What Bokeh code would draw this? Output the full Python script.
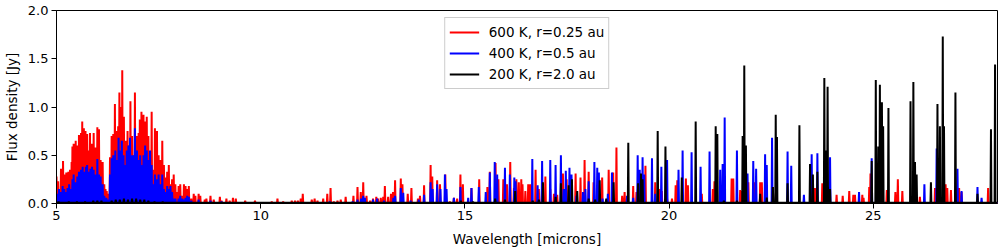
from bokeh.plotting import figure
from bokeh.models import Range1d, FixedTicker, PrintfTickFormatter, Legend, LegendItem
from bokeh.embed import file_html
from bokeh.resources import INLINE

# ---------------- data ----------------
# 600 K, r=0.25 au  (line centres in microns, peak flux in Jy)
red_wl = [5.00, 5.04, 5.11, 5.16, 5.20, 5.24, 5.29, 5.33, 5.37, 5.39, 5.42, 5.47, 5.51, 5.55,
          5.60, 5.63, 5.67, 5.71, 5.75, 5.78, 5.82, 5.86, 5.91, 5.95, 6.00, 6.04, 6.08, 6.13,
          6.17, 6.20, 6.23, 6.26, 6.31, 6.35, 6.39, 6.43, 6.47, 6.51, 6.54, 6.57, 6.61, 6.65,
          6.70, 6.74, 6.77, 6.81, 6.85, 6.89, 6.92, 6.97, 7.01, 7.04, 7.08, 7.13, 7.17, 7.21,
          7.25, 7.29, 7.33, 7.37, 7.41, 7.46, 7.50, 7.54, 7.59, 7.63, 7.67, 7.71, 7.75, 7.79,
          7.83, 7.87, 7.91, 7.95, 7.99, 8.03, 8.08, 8.12, 8.16, 8.20, 8.24, 8.30, 8.36, 8.40,
          8.48, 8.52, 8.63, 8.67, 8.77, 8.85, 9.00, 9.04, 9.16, 9.24, 9.32, 9.39, 9.62, 9.86,
          10.27, 10.41, 10.55, 10.76, 10.84, 10.91, 10.98, 11.03, 11.25, 11.32, 11.39, 11.53,
          11.63, 11.71, 11.79, 11.88, 11.96, 12.08, 12.27, 12.37, 12.45, 12.51, 12.59, 12.68,
          12.75, 12.83, 12.87, 12.94, 13.00, 13.04, 13.12, 13.19, 13.24, 13.29, 13.43, 13.47,
          13.60, 13.69, 13.85, 13.90, 14.00, 14.16, 14.20, 14.32, 14.39, 14.52, 14.63, 14.73,
          14.81, 14.89, 14.95, 15.16, 15.35, 15.55, 15.61, 15.75, 15.82, 15.94, 16.03, 16.11,
          16.20, 16.26, 16.32, 16.38, 16.41, 16.48, 16.55, 16.60, 16.73, 16.81, 16.89, 16.97,
          17.09, 17.18, 17.26, 17.40, 17.49, 17.60, 17.71, 17.83, 17.93, 18.03, 18.15, 18.28,
          18.36, 18.52, 18.63, 18.71, 18.85, 18.91, 19.12, 19.20, 19.42, 19.66, 19.77, 19.82,
          19.95, 20.07, 20.16, 20.20, 20.41, 20.46, 20.80, 21.07, 21.11, 21.53, 21.57, 21.74,
          21.78, 21.94, 22.09, 22.23, 22.27, 22.54, 23.53, 23.57, 23.75, 24.10, 24.25, 24.41,
          24.51, 24.55, 24.73, 24.76, 24.90, 24.93, 25.33, 25.54, 25.60, 25.71, 26.14, 26.51,
          26.77, 26.81, 26.90, 27.10, 27.16, 27.81]
red_flux = [0.28, 0.23, 0.36, 0.44, 0.30, 0.32, 0.33, 0.35, 0.43, 0.59, 0.62, 0.65, 0.60, 0.71,
            0.73, 0.85, 0.78, 0.75, 0.72, 0.55, 0.73, 0.62, 0.73, 0.58, 0.79, 0.77, 0.45, 0.43,
            0.20, 0.15, 0.13, 0.10, 0.48, 0.70, 0.72, 1.03, 0.75, 0.80, 1.15, 1.00, 1.38, 0.90,
            0.65, 0.75, 0.60, 1.06, 0.70, 0.50, 1.15, 0.70, 0.73, 0.87, 0.95, 0.92, 0.85, 0.90,
            0.70, 0.50, 0.95, 0.35, 0.78, 0.75, 0.50, 0.45, 0.65, 0.40, 0.27, 0.33, 0.40, 0.20,
            0.25, 0.30, 0.20, 0.12, 0.18, 0.20, 0.08, 0.20, 0.18, 0.15, 0.18, 0.05, 0.10, 0.08,
            0.10, 0.08, 0.04, 0.05, 0.08, 0.04, 0.07, 0.03, 0.05, 0.03, 0.06, 0.05, 0.03, 0.03,
            0.02, 0.05, 0.02, 0.03, 0.03, 0.03, 0.05, 0.10, 0.04, 0.05, 0.03, 0.05,
            0.10, 0.16, 0.02, 0.03, 0.04, 0.07, 0.08, 0.17, 0.12, 0.22, 0.08, 0.03,
            0.05, 0.07, 0.05, 0.06, 0.07, 0.18, 0.07, 0.10, 0.12, 0.24, 0.26, 0.20,
            0.10, 0.16, 0.05, 0.08, 0.19, 0.40, 0.28, 0.24, 0.20, 0.30, 0.02, 0.06,
            0.05, 0.30, 0.20, 0.16, 0.25, 0.17, 0.33, 0.42, 0.25, 0.25, 0.20, 0.43,
            0.16, 0.25, 0.22, 0.25, 0.20, 0.13, 0.20, 0.20, 0.35, 0.15, 0.18, 0.28,
            0.15, 0.10, 0.09, 0.31, 0.25, 0.20, 0.31, 0.27, 0.45, 0.33, 0.22, 0.22,
            0.27, 0.35, 0.32, 0.58, 0.08, 0.12, 0.18, 0.12, 0.39, 0.22, 0.15, 0.13,
            0.05, 0.05, 0.19, 0.24, 0.26, 0.19, 0.10, 0.15, 0.23, 0.26, 0.26, 0.14,
            0.13, 0.22, 0.22, 0.22, 0.22, 0.17, 0.16, 0.16, 0.21, 0.09, 0.08, 0.13,
            0.09, 0.09, 0.09, 0.06, 0.17, 0.31, 0.14, 0.12, 0.25, 0.13, 0.07, 0.16,
            0.20, 0.16, 0.14, 0.16, 0.12, 0.16]

# 400 K, r=0.5 au
blue_wl = [5.02, 5.06, 5.11, 5.15, 5.19, 5.23, 5.27, 5.31, 5.34, 5.39, 5.42, 5.47, 5.51, 5.55,
           5.60, 5.64, 5.68, 5.72, 5.75, 5.79, 5.83, 5.87, 5.91, 5.95, 6.00, 6.04, 6.08, 6.13,
           6.17, 6.22, 6.26, 6.31, 6.35, 6.39, 6.44, 6.48, 6.52, 6.56, 6.60, 6.64, 6.68, 6.72,
           6.76, 6.80, 6.84, 6.88, 6.92, 6.97, 7.01, 7.05, 7.09, 7.13, 7.17, 7.21, 7.25, 7.29,
           7.33, 7.37, 7.41, 7.46, 7.50, 7.54, 7.59, 7.63, 7.67, 7.71, 7.75, 7.79, 7.83, 7.87,
           7.91, 7.99, 8.03, 8.08, 8.12, 8.16, 8.20, 8.24, 8.30, 8.48, 8.77, 9.04, 11.69, 12.25,
           12.37, 12.46, 12.51, 12.55, 12.75, 12.85, 13.02, 13.25, 13.29, 13.43, 13.49, 13.67,
           13.87, 14.00, 14.16, 14.21, 14.32, 14.40, 14.51, 14.55, 14.73, 14.89, 15.08, 15.16,
           15.34, 15.51, 15.61, 15.73, 15.79, 15.98, 16.10, 16.21, 16.24, 16.65, 16.78, 16.89,
           17.09, 17.22, 17.35, 17.42, 17.47, 17.56, 17.61, 17.73, 17.89, 17.95, 18.03, 18.17,
           18.24, 18.28, 18.37, 18.50, 18.60, 18.97, 19.12, 19.23, 19.28, 19.35, 19.39, 19.58,
           19.66, 19.81, 19.95, 20.23, 20.33, 20.55, 20.77, 20.99, 21.25, 21.31, 21.36, 21.66,
           21.92, 22.06, 22.13, 22.35, 22.39, 22.52, 22.90, 22.99, 23.30, 23.49, 23.63, 23.94,
           24.65, 24.96, 26.25, 26.55, 27.06, 27.16, 27.55, 27.65]
blue_flux = [0.10, 0.15, 0.12, 0.18, 0.15, 0.12, 0.16, 0.20, 0.15, 0.25, 0.30, 0.22, 0.28, 0.33,
             0.35, 0.38, 0.33, 0.38, 0.40, 0.33, 0.36, 0.38, 0.35, 0.30, 0.46, 0.30, 0.28, 0.20,
             0.08, 0.06, 0.04, 0.30, 0.47, 0.50, 0.55, 0.45, 0.68, 0.55, 0.65, 0.50, 0.40, 0.55,
             0.60, 0.68, 0.50, 0.50, 0.78, 0.55, 0.45, 0.50, 0.40, 0.50, 0.60, 0.55, 0.45, 0.55,
             0.40, 0.20, 0.30, 0.25, 0.30, 0.20, 0.30, 0.15, 0.12, 0.18, 0.15, 0.18, 0.12, 0.05,
             0.05, 0.05, 0.08, 0.05, 0.04, 0.06, 0.08, 0.07, 0.03, 0.04, 0.03, 0.02, 0.02, 0.02,
             0.04, 0.05, 0.08, 0.06, 0.04, 0.05, 0.03, 0.06, 0.08, 0.16, 0.11, 0.03,
             0.04, 0.09, 0.22, 0.15, 0.20, 0.15, 0.30, 0.15, 0.06, 0.17, 0.06, 0.16,
             0.17, 0.12, 0.32, 0.43, 0.30, 0.37, 0.30, 0.27, 0.23, 0.46, 0.19, 0.44,
             0.45, 0.40, 0.50, 0.15, 0.34, 0.37, 0.30, 0.08, 0.12, 0.15, 0.23, 0.43,
             0.37, 0.32, 0.05, 0.10, 0.32, 0.08, 0.06, 0.50, 0.35, 0.48, 0.30, 0.47,
             0.10, 0.38, 0.45, 0.35, 0.55, 0.53, 0.38, 0.54, 0.35, 0.41, 0.89, 0.55,
             0.31, 0.44, 0.36, 0.51, 0.40, 0.68, 0.54, 0.39, 0.09, 0.51, 0.52, 0.48,
             0.12, 0.47, 0.20, 0.57, 0.36, 0.13, 0.17, 0.06]

# 200 K, r=2.0 au
black_wl = [5.05, 5.30, 5.50, 5.70, 5.90, 6.00, 6.10, 6.35, 6.45, 6.55, 6.65, 6.75, 6.85, 6.95,
            7.05, 7.15, 7.25, 7.40, 7.60, 14.90, 15.20, 15.74, 15.98, 16.23, 16.66, 16.81,
            16.91, 17.22, 17.35, 17.54, 17.62, 17.75, 18.03, 18.19, 18.30, 18.46, 18.64, 19.00,
            19.24, 19.31, 19.35, 19.72, 19.91, 20.31, 20.65, 21.14, 21.18, 21.34, 21.66, 21.80,
            21.84, 21.88, 22.23, 22.39, 22.54, 22.61, 22.64, 22.90, 23.19, 23.45, 23.52, 23.63,
            23.80, 23.84, 23.88, 23.94, 24.96, 25.06, 25.12, 25.16, 25.21, 25.24, 25.37, 25.91,
            25.98, 26.02, 26.06, 26.41, 26.57, 26.63, 26.70, 26.73, 27.01, 27.55, 27.88, 27.98]
black_flux = [0.02, 0.02, 0.02, 0.02, 0.03, 0.03, 0.03, 0.03, 0.04, 0.04, 0.05, 0.04, 0.05, 0.05,
              0.04, 0.04, 0.03, 0.02, 0.02, 0.03, 0.02, 0.05, 0.04, 0.13, 0.03, 0.04,
              0.22, 0.07, 0.21, 0.19, 0.25, 0.13, 0.05, 0.04, 0.24, 0.05, 0.22, 0.63,
              0.21, 0.31, 0.25, 0.75, 0.59, 0.27, 0.85, 0.80, 0.72, 0.03, 0.03, 0.70,
              1.43, 0.60, 0.10, 0.06, 0.17, 0.92, 0.69, 0.21, 0.81, 0.41, 0.30, 0.33,
              1.30, 0.55, 1.21, 0.15, 0.44, 1.28, 0.59, 1.23, 1.05, 0.80, 0.99, 1.06,
              1.26, 0.43, 0.30, 0.22, 1.03, 0.80, 1.73, 0.80, 1.15, 0.10, 0.77, 1.44]

continuum = {"red": 0.005, "blue": 0.005, "black": 0.009}   # Jy, flat floor of each model
wl_min, wl_max = 4.98, 28.06
labels = ["600 K, r=0.25 au", "400 K, r=0.5 au", "200 K, r=2.0 au"]
x_ticks = [5, 10, 15, 20, 25]
y_ticks = [0.0, 0.5, 1.0, 1.5, 2.0]

HALF = 0.011  # half base of each unresolved line (microns)


def spectrum(wl, flux, base):
    xs, ys = [wl_min], [base]
    for w, f in sorted(zip(wl, flux)):
        xs += [w - HALF, w, w + HALF]
        ys += [base, f, base]
    xs.append(wl_max)
    ys.append(base)
    return xs, ys


FONT = "DejaVu Sans"

p = figure(width=1000, height=250, x_range=Range1d(5, 28.04), y_range=Range1d(0, 2.0),
           output_backend="svg", toolbar_location=None,
           min_border_left=56, min_border_right=3, min_border_top=10, min_border_bottom=47,
           x_axis_label="Wavelength [microns]", y_axis_label="Flux density [Jy]")
p.xgrid.visible = False
p.ygrid.visible = False
p.outline_line_color = "black"
p.outline_line_width = 1
p.outline_line_alpha = 1
p.background_fill_color = "white"
p.border_fill_color = "white"

for ax in (p.xaxis[0], p.yaxis[0]):
    ax.axis_line_color = "black"
    ax.major_tick_out = 5
    ax.major_tick_in = 0
    ax.major_tick_line_color = "black"
    ax.minor_tick_line_color = None
    ax.major_label_text_font = FONT
    ax.major_label_text_font_size = "13px"
    ax.major_label_text_color = "black"
    ax.axis_label_text_font = FONT
    ax.axis_label_text_font_size = "13.5px"
    ax.axis_label_text_font_style = "normal"
    ax.axis_label_text_color = "black"

p.xaxis.ticker = FixedTicker(ticks=x_ticks)
p.yaxis.ticker = FixedTicker(ticks=y_ticks)
p.yaxis.formatter = PrintfTickFormatter(format="%.1f")
p.xaxis.major_label_standoff = 2
p.yaxis.major_label_standoff = 3
p.xaxis.axis_label_standoff = 8
p.yaxis.axis_label_standoff = 5

rx, ry = spectrum(red_wl, red_flux, continuum["red"])
bx, by = spectrum(blue_wl, blue_flux, continuum["blue"])
kx, ky = spectrum(black_wl, black_flux, continuum["black"])

r_red = p.line(rx, ry, line_color="#ff0000", line_width=2)
r_blue = p.line(bx, by, line_color="#0000ff", line_width=2)
r_black = p.line(kx, ky, line_color="#000000", line_width=2)

legend = Legend(items=[LegendItem(label=labels[0], renderers=[r_red]),
                       LegendItem(label=labels[1], renderers=[r_blue]),
                       LegendItem(label=labels[2], renderers=[r_black])],
                location="top_center")
legend.margin = 7
legend.padding = 4
legend.spacing = 1
legend.glyph_width = 30
legend.glyph_height = 20
legend.label_height = 20
legend.label_standoff = 10
legend.label_text_font = FONT
legend.label_text_font_size = "13.5px"
legend.label_text_color = "black"
legend.border_line_color = "#cccccc"
legend.border_line_alpha = 1
legend.background_fill_alpha = 0.8
p.add_layout(legend, "center")

open("out.html", "w").write(file_html(p, INLINE))
